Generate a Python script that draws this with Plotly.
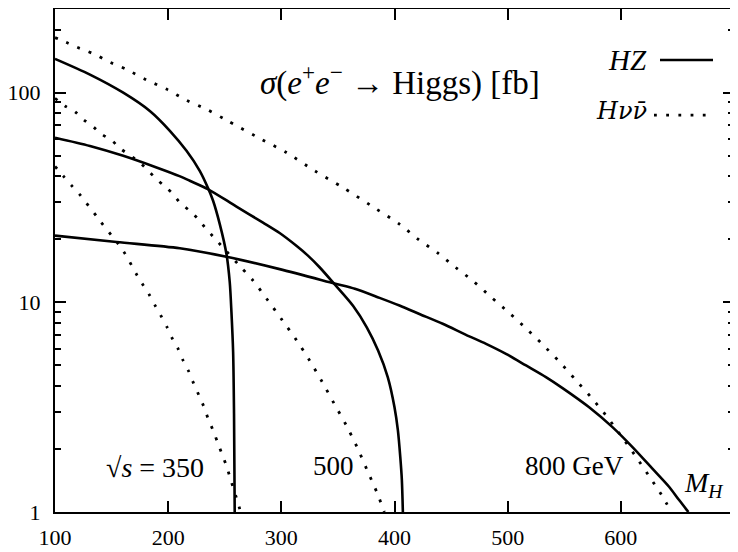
import plotly.graph_objects as go

# ---- data (M_H in GeV, sigma in fb) ----
mh_hz350 = [100, 130.9, 160.3, 183.8, 201.5, 216.2, 227.9, 235.3, 239.7, 245.6,
            251.5, 254.4, 255.9, 257.4, 258.2, 258.8]
hz350 = [145, 122, 100, 81.8, 65.8, 52.8, 42.4, 35.0, 30.5, 23.6,
         17.0, 12.5, 9.0, 5.8, 2.94, 1.0]

mh_hz500 = [100, 130.9, 160.3, 189.7, 210, 219.1, 235, 260, 283.8, 298.5, 313.3,
            323.5, 333.8, 347, 363.5, 375.5, 385.5, 394.1, 400, 403, 405.1, 406.5, 407.4]
hz500 = [61, 55.7, 50, 44, 40, 38, 34.7, 28.7, 24.0, 21.4, 18.6,
         16.7, 14.7, 12.2, 9.6, 7.6, 5.89, 4.39, 3.16, 2.45, 1.83, 1.42, 1.0]

mh_hz800 = [100, 154.4, 210.3, 251.5, 298.5, 347, 365, 386.8, 404.4, 422, 442.6, 463.2,
            480.9, 498.5, 516.2, 533.8, 548.5, 572, 592.6, 610.3, 627.9, 642.6, 651.5, 659.7]
hz800 = [20.8, 19.4, 18.1, 16.5, 14.4, 12.3, 11.6, 10.5, 9.65, 8.8, 7.9, 7.0,
         6.34, 5.68, 5.0, 4.4, 3.9, 3.16, 2.54, 2.04, 1.61, 1.32, 1.14, 1.0]

mh_hnn350 = [100, 107.4, 114.7, 122, 139.7, 160.3, 172, 177.4, 183.2, 188.5, 193.5,
             199.1, 203.8, 208.8, 213.2, 218.2, 222.6, 227.3, 231.4, 235.3, 239.7,
             243.8, 247.4, 251.5, 255, 261.8, 264]
hnn350 = [44.5, 40, 36, 32.6, 24.5, 17.6, 13.6, 12.2, 10.9, 9.65, 8.65,
          7.6, 6.7, 6.0, 5.28, 4.68, 4.09, 3.59, 3.19, 2.79, 2.45,
          2.14, 1.9, 1.66, 1.44, 1.10, 1.0]

mh_hnn500 = [100, 108.8, 117.6, 125, 133.8, 141.2, 150, 157.4, 175, 188.2, 197,
             204.4, 210.3, 219.1, 226.4, 232.4, 239.7, 247.1, 261.8, 275, 288.2,
             300.6, 313.2, 325, 335.9, 346.5, 357.4, 367.1, 375.9, 384.7, 391]
hnn500 = [94, 86.4, 81.2, 74.5, 68.7, 63.4, 59.3, 54.3, 46.4, 39.4, 35.7,
          32.8, 29.9, 27.3, 25.0, 22.8, 20.6, 18.6, 15.2, 12.7, 10.2,
          8.25, 6.62, 5.28, 4.19, 3.30, 2.59, 2.03, 1.58, 1.23, 1.0]

mh_hnn800 = [100, 109.7, 119.1, 128, 136.8, 145.6, 163.3, 180.9, 198.5, 216.2,
             233.8, 251.5, 278, 304.5, 329.4, 354.4, 379.4, 404.4, 421.4, 438.2,
             453.8, 469.7, 485.3, 500.8, 516.2, 530.9, 545.3, 559.8, 573.6, 586.8,
             600, 612.6, 624.4, 636.2, 644.7]
hnn800 = [183, 174, 165, 158, 151, 142, 129, 115, 104, 92,
          83.4, 73.9, 61.7, 51.8, 42.4, 35.3, 28.9, 23.6, 19.9, 17.2,
          14.7, 12.6, 10.6, 8.96, 7.52, 6.29, 5.24, 4.28, 3.53, 2.89,
          2.32, 1.86, 1.5, 1.2, 1.0]

x_ticks = [100, 200, 300, 400, 500, 600, 700]
x_ticktext = ["100", "200", "300", "400", "500", "600", "700"]
y_ticks = [1, 10, 100]
y_ticktext = ["1", "10", "100"]
y_minor = [2, 3, 4, 5, 6, 7, 8, 9, 20, 30, 40, 50, 60, 70, 80, 90, 200]

FONT = "Liberation Serif"
FONT2 = "DejaVu Serif"
solid = dict(color="black", width=2.6, shape="spline", smoothing=0.8)
dotted = dict(color="black", width=2.8, dash="2.8px,9.4px", shape="spline", smoothing=0.8)

fig = go.Figure()
for xs, ys in [(mh_hz350, hz350), (mh_hz500, hz500), (mh_hz800, hz800)]:
    fig.add_trace(go.Scatter(x=xs, y=ys, mode="lines", line=solid,
                             showlegend=False, hoverinfo="skip"))
for xs, ys in [(mh_hnn350, hnn350), (mh_hnn500, hnn500), (mh_hnn800, hnn800)]:
    fig.add_trace(go.Scatter(x=xs, y=ys, mode="lines", line=dotted,
                             showlegend=False, hoverinfo="skip"))

# the page has an 8px body margin; work in window pixels and shift by it
OFF = 8
W, H = 730, 544
L, R, T, B = 55, 734, 9, 511.7          # plot area in window pixels
def px(x):
    return (x - L) / (R - L)
def py(y):
    return (B - y) / (B - T)

# legend samples (decorative)
fig.add_shape(type="line", xref="paper", yref="paper",
              x0=px(660), x1=px(713), y0=py(60), y1=py(60),
              line=dict(color="black", width=2.6))
fig.add_shape(type="line", xref="paper", yref="paper",
              x0=px(654), x1=px(714), y0=py(115), y1=py(115),
              line=dict(color="black", width=2.8, dash="2.8px,9.4px"))

def ann(text, x, y, size, xanchor="center", family=FONT):
    fig.add_annotation(text=text, xref="paper", yref="paper", x=px(x), y=py(y),
                       xanchor=xanchor, yanchor="middle", showarrow=False,
                       font=dict(family=family, size=size, color="black"))

ann("<i>σ</i>(<i>e</i><sup>+</sup><i>e</i><sup>−</sup> → Higgs) [fb]", 400, 80, 33)
ann("<i>HZ</i>", 649, 60, 29, xanchor="right")
ann("<i>Hνν̄</i>", 649, 111, 24, xanchor="right", family=FONT2)
ann("√<i>s</i> = 350", 155, 467, 28)
ann("500", 333, 466, 27)
ann("800 GeV", 574, 466, 27)
ann("<i>M</i><sub><i>H</i></sub>", 704, 484, 28)

axis_common = dict(showline=True, linecolor="black", linewidth=2, mirror="ticks",
                   ticks="inside", tickcolor="black", tickwidth=1.5,
                   showgrid=False, zeroline=False, automargin=False,
                   tickfont=dict(family=FONT, size=22, color="black"))

fig.update_xaxes(range=[100, 700], tickmode="array", tickvals=x_ticks,
                 ticktext=x_ticktext, ticklen=11, ticklabelstandoff=5, **axis_common)
fig.update_yaxes(type="log", range=[0, 2.399], tickmode="array", tickvals=y_ticks,
                 ticktext=y_ticktext, ticklen=11, ticklabelstandoff=8,
                 minor=dict(tickmode="array", tickvals=y_minor, ticks="inside",
                            ticklen=6, tickwidth=1.5, tickcolor="black", showgrid=False),
                 **axis_common)

fig.update_layout(width=W, height=H,
                  margin=dict(l=L - OFF, r=W - (R - OFF), t=T - OFF, b=H - (B - OFF)),
                  paper_bgcolor="white", plot_bgcolor="white",
                  font=dict(family=FONT, color="black"), showlegend=False)

fig.write_html("out.html")
